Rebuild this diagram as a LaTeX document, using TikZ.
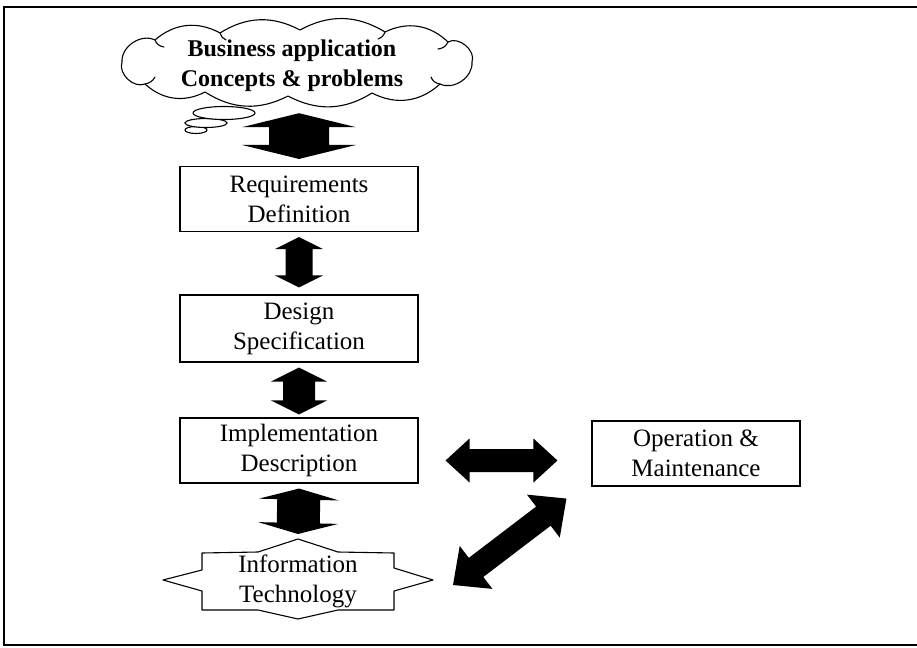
\documentclass[tikz,border=0pt]{standalone}
\usepackage{fontspec}
\setmainfont{Liberation Serif}
\usetikzlibrary{calc}

% Filled double-headed block arrow between two tips:
% #1, #2 tips; #3 shaft half-width; #4 head half-width; #5 head length
\newcommand\blockarrow[5]{%
  \coordinate (ba-a) at (#1);
  \coordinate (ba-b) at (#2);
  \coordinate (ba-a1) at ($(ba-a)!#5!(ba-b)$);
  \coordinate (ba-b1) at ($(ba-b)!#5!(ba-a)$);
  \fill[black] (ba-a) -- ($(ba-a1)!#4!90:(ba-b)$) -- ($(ba-a1)!#3!90:(ba-b)$)
    -- ($(ba-b1)!#3!-90:(ba-a)$) -- ($(ba-b1)!#4!-90:(ba-a)$) -- (ba-b)
    -- ($(ba-b1)!#4!90:(ba-a)$) -- ($(ba-b1)!#3!90:(ba-a)$)
    -- ($(ba-a1)!#3!-90:(ba-b)$) -- ($(ba-a1)!#4!-90:(ba-b)$) -- cycle;}

\tikzset{
  stagebox/.style={draw, line width=1.1pt, minimum width=238pt, minimum height=65pt,
    inner sep=0pt, align=center, font=\fontsize{25}{30}\selectfont},
  plaintext/.style={inner sep=0pt, align=center, font=\fontsize{25}{30}\selectfont},
  outline/.style={draw, line width=1.1pt, line join=round},
}

\begin{document}
\begin{tikzpicture}[x=1pt, y=-1pt]
  \useasboundingbox (0,0) rectangle (917,647);

  % frame
  \draw[line width=1.3pt] (917,7) -- (4,7) -- (4,645) -- (917,645);

  % cloud: an invisible box for anchoring, the outline drawn round it
  \node[minimum width=362pt, minimum height=90pt, inner sep=0pt] (cloud) at (297,62) {};
  \draw[outline, line cap=round]
    (122,62) to[bend left=60] (155,40) to[bend left=35] (220,33)
    to[bend left=30] (300,30) to[bend left=30] (385,32)
    to[bend left=35] (448,42) to[bend left=70] (472,62)
    to[bend left=60] (440,84) to[bend left=35] (372,93)
    to[bend left=30] (288,96) to[bend left=30] (205,92)
    to[bend left=35] (145,84) to[bend left=65] cycle;
  % inner curls of the cloud
  \draw[outline, line cap=round] (155,40) to[bend right=30] (164,47);
  \draw[outline, line cap=round] (220,33) to[bend right=25] (226,40);
  \draw[outline, line cap=round] (385,32) to[bend left=25] (378,39);
  \draw[outline, line cap=round] (448,42) to[bend left=30] (438,49);
  \draw[outline, line cap=round] (440,84) to[bend left=30] (431,77);
  \draw[outline, line cap=round] (145,84) to[bend right=25] (155,77);
  \node[inner sep=0pt, align=center, font=\fontsize{24}{30}\selectfont\bfseries]
        (biz) at (292,66) {Business application\\Concepts \& problems};
  \draw[line width=1.1pt, fill=white] (196,130) ellipse [x radius=11, y radius=3.5];
  \draw[line width=1.1pt, fill=white] (206,123) ellipse [x radius=21, y radius=4.5];
  \draw[line width=1.1pt, fill=white] (224,113) ellipse [x radius=31, y radius=6.5];

  % stages
  \node[stagebox] (req) at (299,199) {Requirements\\Definition};
  \node[stagebox, minimum height=67pt] (design) at (299,328.5) {Design\\Specification};
  \node[stagebox] (impl) at (299,450.5) {Implementation\\Description};
  \node[stagebox, minimum width=208pt] (ops) at (696,453.5) {Operation \&\\Maintenance};

  % information technology seal
  \node[plaintext] (it) at (298,581) {Information\\Technology};
  \begin{scope}[shift={(it.center)}]
    \draw[outline] (-96,-28) -- (-40,-29) -- (0,-42) -- (40,-29) -- (96,-28)
      -- (96,-13) -- (135,-1) -- (96,10) -- (96,29) -- (40,29) -- (0,38)
      -- (-40,29) -- (-96,29) -- (-96,10) -- (-135,-1) -- (-96,-11) -- cycle;
  \end{scope}

  % block arrows
  \blockarrow{$(cloud.south)+(2,6)$}{$(req.north)+(0,-7)$}{30pt}{57pt}{14pt}
  \blockarrow{$(req.south)+(0,5)$}{$(design.north)+(0,-7)$}{13.5pt}{24pt}{12pt}
  \blockarrow{$(design.south)+(0,5)$}{$(impl.north)+(0,-3)$}{16pt}{28pt}{14pt}
  \blockarrow{$(impl.south)+(0,5)$}{$(it.center)+(0,-47)$}{21.5pt}{40pt}{11pt}
  \blockarrow{$(impl.east)+(27,10)$}{$(ops.west)+(-34,7)$}{11.5pt}{22pt}{24pt}
  \blockarrow{$(it.center)+(155,4)$}{$(ops.south west)+(-25,12)$}{12pt}{27pt}{29pt}
\end{tikzpicture}
\end{document}
